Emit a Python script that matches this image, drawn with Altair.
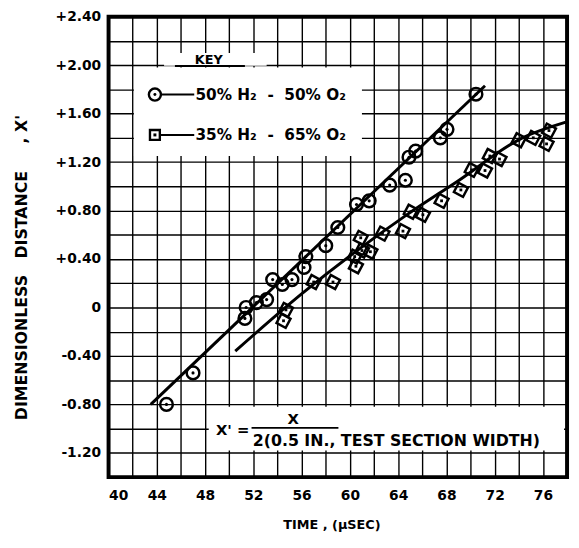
import altair as alt
import pandas as pd

# ---- data ----
circle_x = [44.8, 47.0, 51.3, 51.4, 52.25, 53.1, 53.6, 54.4, 55.2, 56.2, 56.35, 58.0, 59.0,
            60.55, 61.6, 63.3, 64.6, 64.9, 65.45, 67.5, 68.05, 70.45]
circle_y = [-0.80, -0.54, -0.09, 0.0, 0.04, 0.065, 0.23, 0.19, 0.23, 0.33, 0.42, 0.51, 0.66,
            0.85, 0.88, 1.01, 1.05, 1.24, 1.29, 1.40, 1.47, 1.76]
square_x = [54.5, 54.7, 57.0, 58.6, 60.5, 60.4, 61.0, 60.9, 61.7, 62.7, 64.4, 65.05, 66.05,
            67.6, 69.2, 70.1, 71.2, 71.6, 72.4, 74.0, 75.2, 76.3, 76.5]
square_y = [-0.11, -0.02, 0.21, 0.21, 0.34, 0.42, 0.47, 0.575, 0.46, 0.61, 0.63, 0.79, 0.765,
            0.88, 0.97, 1.135, 1.13, 1.25, 1.225, 1.38, 1.40, 1.35, 1.46]

circle_fit_x = [43.5, 71.2]
circle_fit_y = [-0.80, 1.83]
square_fit_x = [50.5, 56.1, 64.65, 68.9, 74.3, 77.9]
square_fit_y = [-0.36, 0.12, 0.76, 1.04, 1.40, 1.53]

x_grid = list(range(40, 79, 2))
y_grid = [round(-1.4 + 0.2 * i, 1) for i in range(20)]

NB = "\u00a0"
series_labels = ["50% H\u2082" + NB + " - " + NB + "50% O\u2082",
                 "35% H\u2082" + NB + " - " + NB + "65% O\u2082"]
key_title = "KEY"
formula_lhs = "X' ="
formula_num = "X"
formula_den = "2(0.5 IN., TEST SECTION WIDTH)"
x_title = "TIME , (\u03bcSEC)"
y_title = "DIMENSIONLESS" + NB * 3 + "DISTANCE" + NB * 5 + "," + NB + "X'"

FONT = "DejaVu Sans"

xs = alt.Scale(domain=[40, 78], nice=False, zero=False)
ys = alt.Scale(domain=[-1.4, 2.4], nice=False, zero=False)

x_axis = alt.Axis(values=x_grid, labelExpr="datum.value % 4 == 0 ? datum.label : ''",
                  title=x_title, grid=True, ticks=False, domain=False, labelPadding=12,
                  titleX=226, titleY=48, titleBaseline="middle", titleAlign="center",
                  titleFontSize=13)
y_axis = alt.Axis(values=y_grid,
                  labelExpr="(round(datum.value*10) % 4 == 0) ? (datum.value > 0.01 ? '+' + format(datum.value, '.2f') : (datum.value < -0.01 ? '-' + format(-datum.value, '.2f') : '0')) : ''",
                  title=y_title, grid=True, ticks=False, domain=False, labelPadding=8,
                  titleX=-88, titleY=254, titleAngle=270, titleBaseline="middle", titleAlign="center",
                  titleFontSize=16)

X = lambda f: alt.X(f, type="quantitative", scale=xs, axis=x_axis)
Y = lambda f: alt.Y(f, type="quantitative", scale=ys, axis=y_axis)

circles = pd.DataFrame({"x": circle_x, "y": circle_y})
squares = pd.DataFrame({"x": square_x, "y": square_y})
cfit = pd.DataFrame({"x": circle_fit_x, "y": circle_fit_y})
sfit = pd.DataFrame({"x": square_fit_x, "y": square_fit_y})

# white boxes behind key and formula
boxes = pd.DataFrame({"x": [42.1, 44.6, 48.3], "x2": [61.0, 53.1, 77.75],
                      "y": [1.25, 1.995, -1.18], "y2": [1.98, 2.10, -0.82]})

box_layer = alt.Chart(boxes).mark_rect(color="white").encode(
    x=X("x"), x2="x2", y=Y("y"), y2="y2")

grid_axes = alt.Chart(circles).mark_point(opacity=0).encode(x=X("x"), y=Y("y"))

cline = alt.Chart(cfit).mark_line(color="black", strokeWidth=3).encode(x=X("x"), y=Y("y"))
sline = alt.Chart(sfit).mark_line(color="black", strokeWidth=3, interpolate="monotone").encode(
    x=X("x"), y=Y("y"))

c_pts = alt.Chart(circles).mark_point(shape="circle", size=165, stroke="black",
                                      strokeWidth=2.5, filled=False, opacity=1).encode(x=X("x"), y=Y("y"))
c_dots = alt.Chart(circles).mark_point(shape="circle", size=10, color="black",
                                       filled=True, opacity=1).encode(x=X("x"), y=Y("y"))
s_pts = alt.Chart(squares).mark_point(shape="square", size=110, stroke="black",
                                      strokeWidth=2.5, filled=False, angle=28, opacity=1).encode(x=X("x"), y=Y("y"))
s_dots = alt.Chart(squares).mark_point(shape="square", size=8, color="black",
                                       filled=True, opacity=1).encode(x=X("x"), y=Y("y"))

# key
key_sym = pd.DataFrame({"x": [43.84, 43.84], "y": [1.757, 1.424], "shape": ["circle", "square"],
                        "size": [150, 100]})
shape_scale = alt.Scale(domain=["circle", "square"], range=["circle", "square"])
key_sym_layer = alt.Chart(key_sym).mark_point(stroke="black", strokeWidth=2.4, filled=False, opacity=1).encode(
    x=X("x"), y=Y("y"),
    shape=alt.Shape("shape:N", scale=shape_scale, legend=None),
    size=alt.Size("size:Q", scale=None, legend=None))
key_dot_layer = alt.Chart(key_sym).mark_point(filled=True, color="black", size=9, opacity=1).encode(
    x=X("x"), y=Y("y"),
    shape=alt.Shape("shape:N", scale=shape_scale, legend=None))
key_lines = pd.DataFrame({"x": [44.3, 44.3], "x2": [47.1, 47.1], "y": [1.757, 1.424]})
key_line_layer = alt.Chart(key_lines).mark_rule(color="black", strokeWidth=2).encode(
    x=X("x"), x2="x2", y=Y("y"))
key_text = pd.DataFrame({"x": [47.2, 47.2], "y": [1.757, 1.424], "t": series_labels})
key_text_layer = alt.Chart(key_text).mark_text(align="left", baseline="middle", font=FONT,
                                               fontWeight="bold", fontSize=15.5, color="black").encode(
    x=X("x"), y=Y("y"), text="t:N")
key_title_df = pd.DataFrame({"x": [48.3], "y": [2.045], "t": [key_title]})
key_title_layer = alt.Chart(key_title_df).mark_text(align="center", baseline="middle", font=FONT,
                                                    fontWeight="bold", fontSize=13, color="black").encode(
    x=X("x"), y=Y("y"), text="t:N")
underline = pd.DataFrame({"x": [45.5], "x2": [51.3], "y": [1.993]})
underline_layer = alt.Chart(underline).mark_rule(color="black", strokeWidth=2).encode(
    x=X("x"), x2="x2", y=Y("y"))

# formula
f_df = pd.DataFrame({"x": [48.9, 55.3, 51.95], "y": [-1.01, -0.925, -1.105],
                     "t": [formula_lhs, formula_num, formula_den]})
f_lhs = alt.Chart(f_df.iloc[[0]]).mark_text(align="left", baseline="middle", font=FONT,
                                            fontWeight="bold", fontSize=15, color="black").encode(
    x=X("x"), y=Y("y"), text="t:N")
f_num = alt.Chart(f_df.iloc[[1]]).mark_text(align="center", baseline="middle", font=FONT,
                                            fontWeight="bold", fontSize=15, color="black").encode(
    x=X("x"), y=Y("y"), text="t:N")
f_den = alt.Chart(f_df.iloc[[2]]).mark_text(align="left", baseline="middle", font=FONT,
                                            fontWeight="bold", fontSize=16, color="black").encode(
    x=X("x"), y=Y("y"), text="t:N")
frac = pd.DataFrame({"x": [51.85], "x2": [59.05], "y": [-0.993]})
frac_layer = alt.Chart(frac).mark_rule(color="black", strokeWidth=1.8).encode(
    x=X("x"), x2="x2", y=Y("y"))

chart = alt.layer(
    grid_axes, box_layer, underline_layer, key_title_layer, key_line_layer, key_sym_layer,
    key_dot_layer, key_text_layer, f_lhs, f_num, f_den, frac_layer,
    cline, sline, c_pts, c_dots, s_pts, s_dots
).properties(
    width=465, height=467,
    background="white",
    autosize=alt.AutoSizeParams(type="none"),
    padding={"left": 102, "top": 5, "right": 4, "bottom": 60},
).configure_view(
    stroke="black", strokeWidth=4, fill="white"
).configure_axis(
    gridColor="black", gridWidth=1.4, gridOpacity=1,
    labelFont=FONT, labelFontSize=14, labelFontWeight="bold", labelColor="black",
    titleFont=FONT, titleFontWeight="bold", titleColor="black",
)

chart.save("out.html", embed_options={"renderer": "svg", "actions": False})
